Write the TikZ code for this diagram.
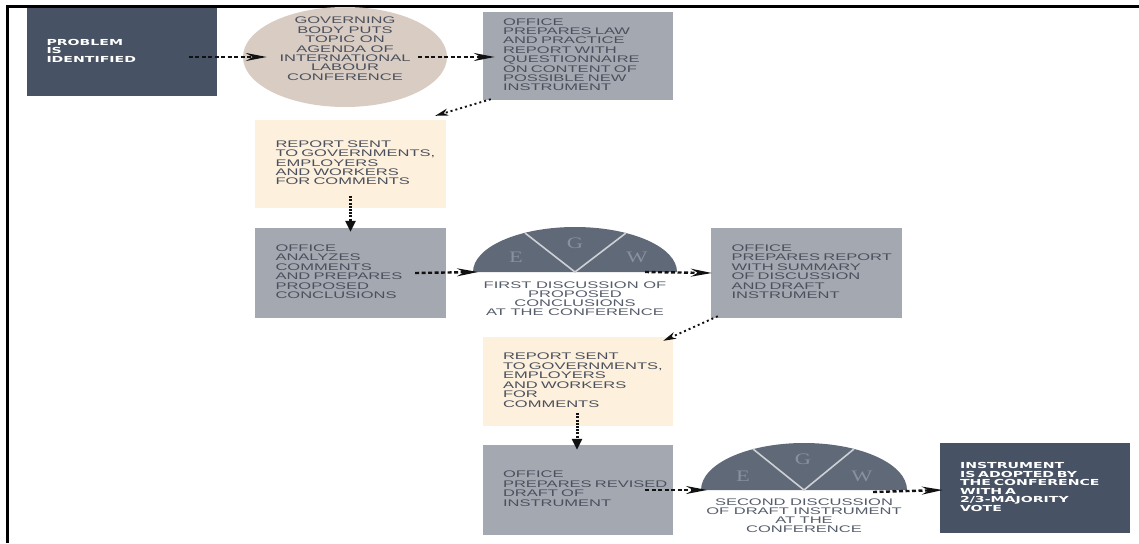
\documentclass[tikz,border=0pt]{standalone}
\usepackage{fontspec}
\setmainfont{Liberation Sans}
\newfontfamily\greyfont[FakeStretch=1.72]{Liberation Sans}
\newfontfamily\heavyfont[FakeStretch=1.7]{DejaVu Sans Bold}
\newfontfamily\egwfont[FakeStretch=1.4]{Liberation Serif}
\usetikzlibrary{shapes.geometric,arrows.meta,calc}
\definecolor{cdark}{HTML}{475264}
\definecolor{cgrey}{HTML}{A4A8B0}
\definecolor{ccream}{HTML}{FDF0DC}
\definecolor{cell}{HTML}{D9CCC3}
\definecolor{chalf}{HTML}{606978}
\definecolor{ctext}{HTML}{4A505D}
\definecolor{cund}{HTML}{555C6A}
\definecolor{cegw}{HTML}{8A919E}
\definecolor{cline}{HTML}{CDD1D6}
\definecolor{carrow}{HTML}{111111}
\newcommand{\greytext}{\greyfont\fontsize{9.6}{9}\selectfont}
\newcommand{\undtext}{\greyfont\fontsize{9.6}{8.7}\selectfont}
\newcommand{\whitetext}{\heavyfont\fontsize{8.3}{8}\selectfont}
\newcommand{\lns}[1]{\begin{tabular}{@{}l@{}}#1\end{tabular}}
\newcommand{\clns}[1]{\begin{tabular}{@{}c@{}}#1\end{tabular}}
\tikzset{
  boxbase/.style={draw=none, minimum width=190pt, minimum height=89pt, inner xsep=20pt, inner ysep=0pt, text width=150pt, align=left},
  dbox/.style={boxbase, fill=cdark, text=white, font=\whitetext},
  gbox/.style={boxbase, fill=cgrey, text=ctext, font=\greytext},
  cbox/.style={boxbase, fill=ccream, text=ctext, font=\greytext},
  flow/.style={carrow, line width=2.4pt, dash pattern=on 4pt off 2.5pt, -{Stealth[length=21pt,width=8pt,inset=7pt]}},
  dflow/.style={carrow, line width=1.9pt, dash pattern=on 2pt off 3pt, -{Stealth[length=13pt,width=7pt,inset=4pt]}},
  vflow/.style={carrow, line width=3pt, dash pattern=on 2pt off 1.2pt, -{Triangle[length=11pt,width=10pt]}},
  egw/.style={font=\egwfont\fontsize{16}{16}\selectfont, text=cegw, inner sep=0pt},
  undlabel/.style={anchor=north, font=\undtext, text=cund, align=center, inner sep=0pt},
  sepline/.style={draw=cline, line width=1.6pt}
}
\begin{document}
\begin{tikzpicture}[x=1pt,y=-1pt]
\useasboundingbox (0,0) rectangle (1139,543);
\fill[white] (0,0) rectangle (1139,543);
\draw[line width=2.5pt] (7.5,543) -- (7.5,6.5) -- (1139,6.5);

% row 1
\node[dbox, minimum width=189pt, minimum height=88pt] (p) at (121.5,52) {\lns{PROBLEM\\IS\\IDENTIFIED}};
\node[ellipse, fill=cell, minimum width=204pt, minimum height=100pt, inner sep=0pt] (gb) at (345,57) {};
\node[font=\greytext, text=ctext, inner sep=0pt] (gbt) at ($(gb.center)+(0,-7)$) {\clns{GOVERNING\\BODY PUTS\\TOPIC ON\\AGENDA OF\\INTERNATIONAL\\LABOUR\\CONFERENCE}};
\node[gbox, minimum height=88pt] (o1) at (578,56) {\lns{OFFICE\\PREPARES LAW\\AND PRACTICE\\REPORT WITH\\QUESTIONNAIRE\\ON CONTENT OF\\POSSIBLE NEW\\INSTRUMENT}};

% row 2
\node[cbox, minimum width=191pt, minimum height=88pt] (r1) at (350.5,164) {\lns{REPORT SENT\\TO GOVERNMENTS,\\EMPLOYERS\\AND WORKERS\\FOR COMMENTS}};
\node[gbox, minimum width=191pt, minimum height=90pt] (o2) at (350.5,273) {\lns{OFFICE\\ANALYZES\\COMMENTS\\AND PREPARES\\PROPOSED\\CONCLUSIONS}};

% first discussion
\coordinate (d1) at (575,272);
\fill[chalf] ($(d1)+(-102,0)$) arc[start angle=180, end angle=0, x radius=102pt, y radius=45pt] -- cycle;
\draw[sepline] ($(d1)+(-50,-39)$) -- (d1) -- ($(d1)+(51,-39)$);
\node[egw] (e1) at ($(d1)+(-59,-15)$) {E};
\node[egw] (g1) at ($(d1)+(0,-29)$) {G};
\node[egw] (w1) at ($(d1)+(62,-15)$) {W};
\node[undlabel] (t1) at ($(d1)+(0,10)$) {FIRST DISCUSSION OF\\PROPOSED\\CONCLUSIONS\\AT THE CONFERENCE};

\node[gbox, minimum width=191pt, minimum height=90pt] (o3) at (806.5,273) {\lns{OFFICE\\PREPARES REPORT\\WITH SUMMARY\\OF DISCUSSION\\AND DRAFT\\INSTRUMENT}};

% row 3
\node[cbox, minimum height=89pt] (r2) at (578,381.5) {\lns{REPORT SENT\\TO GOVERNMENTS,\\EMPLOYERS\\AND WORKERS\\FOR\\COMMENTS}};
\node[gbox, minimum height=90pt] (o4) at (578,490) {\lns{OFFICE\\PREPARES REVISED\\DRAFT OF\\INSTRUMENT}};

% second discussion
\coordinate (d2) at (804,490);
\fill[chalf] ($(d2)+(-103,0)$) arc[start angle=180, end angle=0, x radius=103pt, y radius=47pt] -- cycle;
\draw[sepline] ($(d2)+(-51,-41)$) -- (d2) -- ($(d2)+(50,-41)$);
\node[egw] (e2) at ($(d2)+(-61,-14)$) {E};
\node[egw] (g2) at ($(d2)+(-1,-31)$) {G};
\node[egw] (w2) at ($(d2)+(58,-14)$) {W};
\node[undlabel] (t2) at ($(d2)+(0,9)$) {SECOND DISCUSSION\\OF DRAFT INSTRUMENT\\AT THE\\CONFERENCE};

\node[dbox, inner xsep=18pt, minimum height=90pt] (ins) at (1035,488) {\lns{INSTRUMENT\\IS ADOPTED BY\\THE CONFERENCE\\WITH A\\2/3-MAJORITY\\VOTE}};

% connectors
\draw[flow] ($(p.east)+(-28,5)$) -- ($(gb.west)+(24,0)$);
\draw[flow] ($(gb.east)+(-29,0)$) -- ($(o1.west)+(12,1)$);
\draw[dflow] ($(o1.south west)+(8,-1)$) -- ($(r1.north east)+(-11,-4)$);
\draw[vflow] ($(r1.south)+(0,-12)$) -- ($(o2.north)+(0,4)$);
\draw[flow] ($(o2.east)+(-31,0)$) -- ($(d1)+(-97,0)$);
\draw[flow] ($(d1)+(70,0)$) -- ($(o3.west)+(1,0)$);
\draw[dflow] ($(o3.south west)+(7,-2)$) -- ($(r2.north east)+(-10,4)$);
\draw[vflow] ($(r2.south)+(-1,-13)$) -- ($(o4.north)+(-1,5)$);
\draw[flow] ($(o4.east)+(-28,0)$) -- ($(d2)+(-97,0)$);
\draw[flow] ($(d2)+(69,2)$) -- ($(ins.west)+(3,2)$);
\end{tikzpicture}
\end{document}
